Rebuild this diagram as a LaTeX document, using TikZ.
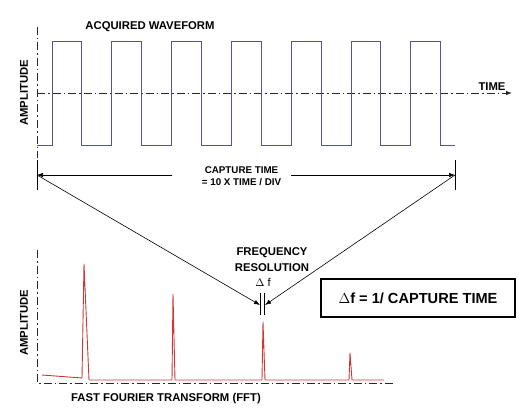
\documentclass[tikz,border=0pt]{standalone}
\usepackage{fontspec}
\setmainfont{Liberation Sans}
\usetikzlibrary{arrows.meta}
\definecolor{wavecol}{RGB}{85,85,150}
\definecolor{speccol}{RGB}{205,55,55}
\definecolor{axiscol}{RGB}{40,40,40}
\begin{document}
\begin{tikzpicture}[x=1pt,y=-1pt,
  axis/.style={axiscol,line width=0.8pt,dash pattern=on 8pt off 3pt on 1.5pt off 3pt},
  wave/.style={wavecol,line width=0.9pt},
  spec/.style={speccol,line width=0.9pt,line join=round},
  tick/.style={black,line width=0.8pt},
  arr/.style={black,line width=0.6pt,-{Latex[length=6pt,width=4.5pt]}},
  lbl/.style={inner sep=0pt,font=\bfseries\fontsize{11.3pt}{13pt}\selectfont},
  small/.style={inner sep=0pt,align=center,font=\bfseries\fontsize{9.8pt}{12pt}\selectfont},
  eqbox/.style={draw,line width=1.2pt,minimum width=194pt,minimum height=38pt,inner sep=0pt,font=\bfseries\fontsize{14.6pt}{16pt}\selectfont}]
\useasboundingbox (0,0) rectangle (528,420);

% ---- top: acquired waveform ----
\coordinate (vtop) at (37,27);
\coordinate (vbot) at (37,158);
\draw[axis] (vtop) -- (vbot);
\coordinate (mstart) at (37,93);
\coordinate (mend) at (512,93);
\draw[axis,-{Latex[length=6pt,width=4.5pt]}] (mstart) -- (mend);
\node[lbl] (time) at (492,87) {TIME};
\node[lbl] (acq) at (150,27) {ACQUIRED WAVEFORM};
\node[lbl,rotate=90] (amp1) at (24,93) {AMPLITUDE};

\draw[wave] (37,145) foreach \k in {0,...,6} {
  -- ({52+59.8*\k},145) -- ({52+59.8*\k},41) -- ({81.9+59.8*\k},41) -- ({81.9+59.8*\k},145) } -- (455,145);

% ---- capture time ----
\coordinate (lt1) at (37,160);
\coordinate (lt2) at (37,190);
\coordinate (rt1) at (455,160);
\coordinate (rt2) at (455,190);
\draw[tick] (lt1) -- (lt2);
\draw[tick] (rt1) -- (rt2);
\coordinate (la) at (37,175);
\coordinate (ra) at (455,175);
\coordinate (las) at (172,175);
\coordinate (ras) at (291,175);
\draw[arr] (las) -- (la);
\draw[arr] (ras) -- (ra);
\node[small] (cap) at (241.5,176) {CAPTURE TIME\\= 10 X TIME / DIV};

% ---- frequency resolution ----
\coordinate (d1a) at (260.5,293);
\coordinate (d1b) at (260.5,315);
\coordinate (d2a) at (264.5,293);
\coordinate (d2b) at (264.5,315);
\draw[tick,line width=0.6pt] (d1a) -- (d1b);
\draw[tick,line width=0.6pt] (d2a) -- (d2b);
\coordinate (dl) at (260,305);
\coordinate (dr) at (265,305);
\draw[arr] (la) -- (dl);
\draw[arr] (ra) -- (dr);
\node[lbl] (freq) at (272,253) {FREQUENCY};
\node[lbl] (reso) at (272,268) {RESOLUTION};
\node[lbl,font=\fontsize{11.3pt}{13pt}\selectfont] (df) at (263,282) {$\Delta$ f};

\node[eqbox] (eq) at (418,298) {$\Delta$f = 1/ CAPTURE TIME};

% ---- bottom: FFT ----
\coordinate (ftop) at (37,250);
\coordinate (forig) at (37,383);
\coordinate (fend) at (394,383);
\draw[axis] (ftop) -- (forig) -- (fend);
\node[lbl,rotate=90] (amp2) at (24,323) {AMPLITUDE};
\node[lbl] (fft) at (166,399) {FAST FOURIER TRANSFORM (FFT)};

\draw[spec] (42,375) -- (82,378) -- (84,264) -- (89,380) -- (172,380) -- (173,294) -- (175,380)
  -- (262,380) -- (263,322) -- (265,380) -- (349,380) -- (350,353) -- (352,380) -- (384,380);
\end{tikzpicture}
\end{document}
